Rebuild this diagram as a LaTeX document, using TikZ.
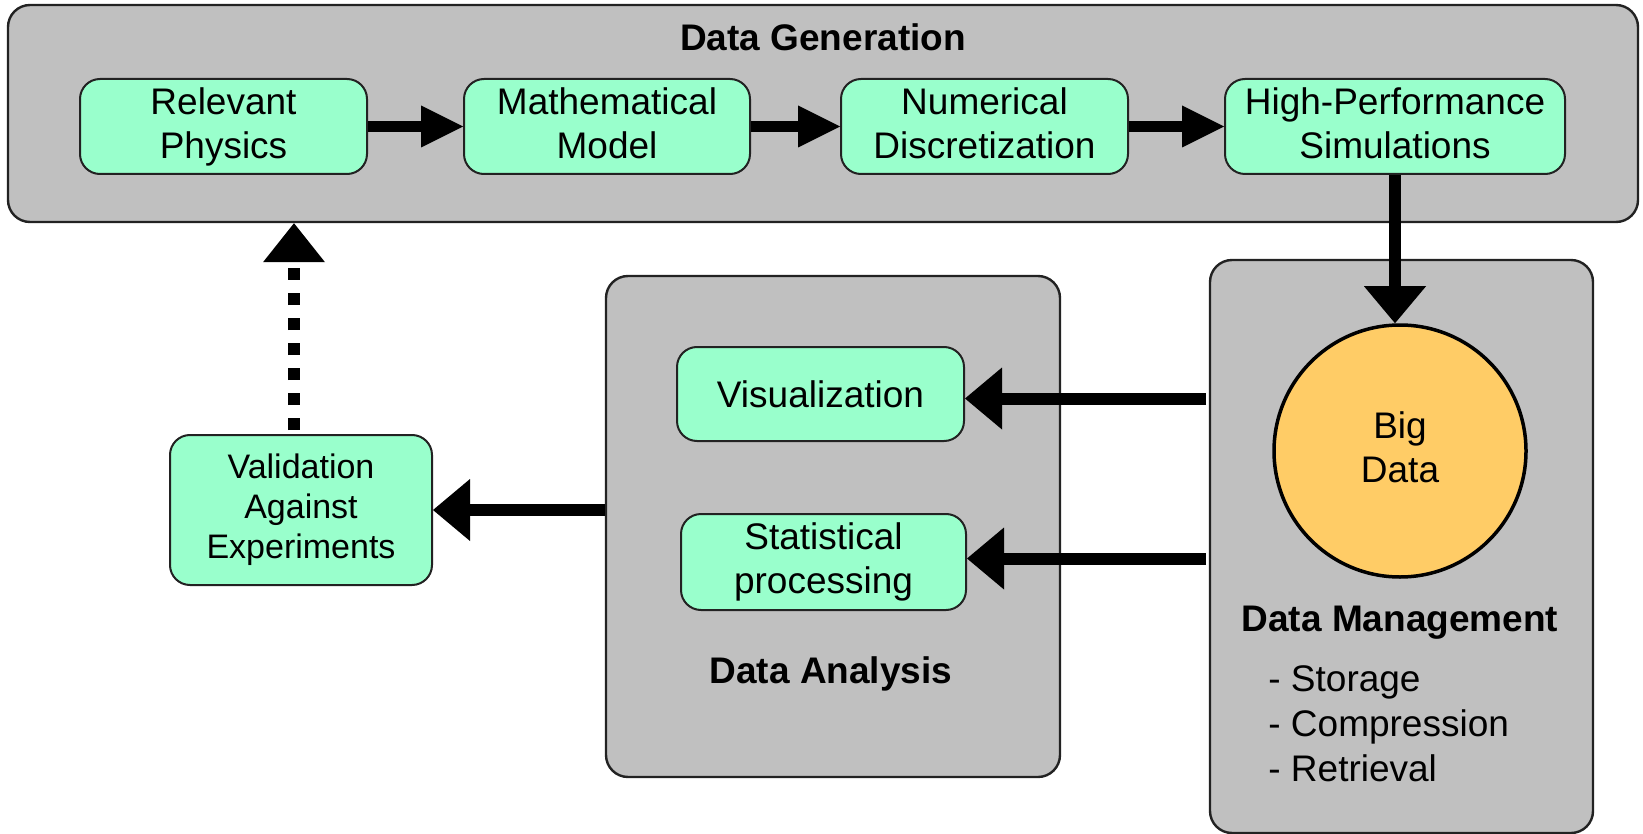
\documentclass[tikz,border=0pt]{standalone}
\usepackage{fontspec}
\setmainfont{Liberation Sans}
\usetikzlibrary{arrows.meta}
\definecolor{boxgray}{HTML}{C0C0C0}
\definecolor{boxgreen}{HTML}{99FFCC}
\definecolor{bigorange}{HTML}{FFCC66}
\definecolor{edge}{HTML}{222222}
\tikzset{
  panel/.style={draw=edge, fill=boxgray, line width=1.2pt, rounded corners=11pt, inner sep=0pt},
  gbox/.style={draw=edge, fill=boxgreen, line width=1pt, rounded corners=10pt, inner sep=0pt, align=center,
    font=\fontsize{18.5}{22}\selectfont},
  title/.style={font=\fontsize{18.5}{22}\selectfont\bfseries, inner sep=0pt},
  flow/.style={line width=5.75pt, -{Triangle[length=21pt,width=21pt,line width=0pt]}},
  bigflow/.style={line width=6pt, -{Triangle[length=18.5pt,width=31pt,line width=0pt]}},
  dotflow/.style={line width=6pt, dash pattern=on 6pt off 6.5pt, -{Triangle[length=19.5pt,width=31pt,line width=0pt]}}
}
\begin{document}
\begin{tikzpicture}[x=0.5pt, y=-0.5pt]
\useasboundingbox (0,0) rectangle (1643,834);
% panels
\node[panel, minimum width=815pt, minimum height=108.5pt] (dg) at (823,113.5) {};
\node[panel, minimum width=191.5pt, minimum height=286.5pt] (dm) at (1401.5,546.5) {};
\node[panel, minimum width=227pt, minimum height=250.5pt] (da) at (833,526.5) {};
% titles
\node[title] (dgt) at (823,37) {Data Generation};
\node[title] (dat) at (831,674) {Data Analysis};
\node[title] (dmt) at (1400,623) {Data Management};
\node[anchor=west, align=left, inner sep=0pt, font=\fontsize{18.5}{22.5}\selectfont] (dml) at (1268,724)
  {- Storage\\- Compression\\- Retrieval};
% top row
\node[gbox, minimum width=143.5pt, minimum height=47.5pt] (rp) at (223.5,126.5) {Relevant\\Physics};
\node[gbox, minimum width=143pt, minimum height=47.5pt] (mm) at (607,126.5) {Mathematical\\Model\vphantom{y}};
\node[gbox, minimum width=143.5pt, minimum height=47.5pt] (nd) at (984.5,126.5) {Numerical\\Discretization\vphantom{y}};
\node[gbox, minimum width=170pt, minimum height=47.5pt] (hps) at (1395,126.5) {High-Performance\\Simulations\vphantom{y}};
% big data
\node[circle, draw=black, line width=1.75pt, fill=bigorange, minimum size=126pt, inner sep=0pt, align=center,
  font=\fontsize{18.5}{22}\selectfont] (bd) at (1400,451) {Big\\Data\vphantom{y}};
% analysis
\node[gbox, minimum width=143.5pt, minimum height=47pt] (vis) at (820.5,394) {Visualization};
\node[gbox, minimum width=142.5pt, minimum height=48pt] (stat) at (823.5,562) {Statistical\\processing};
% validation
\node[gbox, minimum width=131pt, minimum height=75pt, font=\fontsize{17}{20}\selectfont] (val) at (301,510)
  {Validation\\Against\\Experiments};
% connectors
\draw[flow] (rp.east) -- (mm.west);
\draw[flow] (mm.east) -- (nd.west);
\draw[flow] (nd.east) -- (hps.west);
\draw[bigflow] (hps.south) -- (hps.south |- bd.north);
\coordinate (dmv) at (1206,398.5);
\coordinate (dms) at (1206,558.5);
\draw[bigflow] (dmv) -- (vis.east |- dmv);
\draw[bigflow] (dms) -- (stat.east |- dms);
\draw[bigflow] (da.west |- val.east) -- (val.east);
\coordinate (vtop) at (294,430);
\draw[dotflow] (vtop) -- (vtop |- dg.south);
\end{tikzpicture}
\end{document}
